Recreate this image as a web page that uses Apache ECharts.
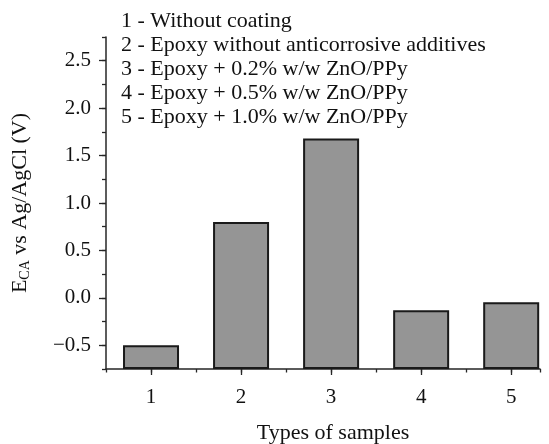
<!DOCTYPE html>
<html>
<head>
<meta charset="utf-8">
<script src="https://cdn.jsdelivr.net/npm/echarts@6/dist/echarts.min.js"></script>
<style>
  html, body { margin: 0; padding: 0; background: #ffffff; }
</style>
</head>
<body>
<div id="chart" style="width: 549px; height: 444px;"></div>
<script>
// sample types on the x axis
var samples = [1, 2, 3, 4, 5]
// corrosion potential, V vs Ag/AgCl
var potentials = [-0.5, 0.80, 1.68, -0.13, -0.045]
var sampleNames = [
  '1 - Without coating',
  '2 - Epoxy without anticorrosive additives',
  '3 - Epoxy + 0.2% w/w ZnO/PPy',
  '4 - Epoxy + 0.5% w/w ZnO/PPy',
  '5 - Epoxy + 1.0% w/w ZnO/PPy'
]
var yTicks = [-0.5, 0, 0.5, 1.0, 1.5, 2.0, 2.5]
var yLabels = ['\u22120.5', '0.0', '0.5', '1.0', '1.5', '2.0', '2.5']

var font = 'Liberation Serif'
var axisColor = '#262626'
var barData = []
for (var i = 0; i < samples.length; i++) {
  barData.push([samples[i], potentials[i]])
}

var myChart = echarts.init(document.getElementById('chart'))
myChart.setOption({
  animation: false,
  title: {
    text: sampleNames.join('\n'),
    left: 121,
    top: 9,
    padding: 0,
    textStyle: {
      fontFamily: font,
      fontSize: 22,
      fontWeight: 'normal',
      color: '#111',
      lineHeight: 24
    }
  },
  grid: {
    left: 106,
    right: 9,
    top: 37,
    bottom: 75,
    outerBoundsMode: 'none'
  },
  xAxis: [
    {
      // short ticks every half step
      type: 'value',
      min: 0.5,
      max: 5.32,
      interval: 0.5,
      splitLine: { show: false },
      axisLine: { onZero: false, lineStyle: { color: axisColor, width: 1.5 } },
      axisTick: { length: 3.5, lineStyle: { color: axisColor, width: 1.3 } },
      axisLabel: { show: false },
      name: 'Types of samples',
      nameLocation: 'middle',
      nameGap: 53,
      nameTextStyle: {
        fontFamily: font,
        fontSize: 22,
        color: '#111',
        padding: [0, 0, 0, 20]
      }
    },
    {
      // long ticks and labels on the sample numbers
      type: 'value',
      position: 'bottom',
      min: 0.5,
      max: 5.32,
      interval: 0.5,
      splitLine: { show: false },
      axisLine: { show: false, onZero: false },
      axisTick: { customValues: samples, length: 6, lineStyle: { color: axisColor, width: 1.3 } },
      axisLabel: {
        customValues: samples,
        margin: 18,
        fontFamily: font,
        fontSize: 21,
        color: '#111'
      }
    }
  ],
  yAxis: [
    {
      type: 'value',
      min: -0.75,
      max: 2.75,
      interval: 0.25,
      startValue: -0.75,
      splitLine: { show: false },
      axisLine: { show: true, onZero: false, lineStyle: { color: axisColor, width: 1.5 } },
      axisTick: { show: true, length: 4, lineStyle: { color: axisColor, width: 1.3 } },
      axisLabel: { show: false },
      name: '{a|E}{s|CA}{a| vs Ag/AgCl (V)}',
      nameLocation: 'middle',
      nameGap: 74,
      nameTextStyle: {
        fontFamily: font,
        color: '#111',
        rich: {
          a: { fontFamily: font, fontSize: 22, color: '#111', lineHeight: 24 },
          s: { fontFamily: font, fontSize: 14, color: '#111', padding: [11, 0, 0, 0], lineHeight: 24 }
        }
      }
    },
    {
      type: 'value',
      position: 'left',
      min: -0.75,
      max: 2.75,
      interval: 0.25,
      splitLine: { show: false },
      axisLine: { show: false, onZero: false },
      axisTick: { show: true, customValues: yTicks, length: 7, lineStyle: { color: axisColor, width: 1.3 } },
      axisLabel: {
        customValues: yTicks,
        margin: 15,
        fontFamily: font,
        fontSize: 21,
        color: '#111',
        formatter: function (v) {
          for (var k = 0; k < yTicks.length; k++) {
            if (Math.abs(yTicks[k] - v) < 1e-6) return yLabels[k]
          }
          return ''
        }
      }
    }
  ],
  series: [
    {
      type: 'bar',
      xAxisIndex: 0,
      yAxisIndex: 0,
      barWidth: 56,
      data: barData,
      itemStyle: {
        color: '#959595',
        borderColor: '#1a1a1a',
        borderWidth: 2
      }
    }
  ]
})
</script>
</body>
</html>
